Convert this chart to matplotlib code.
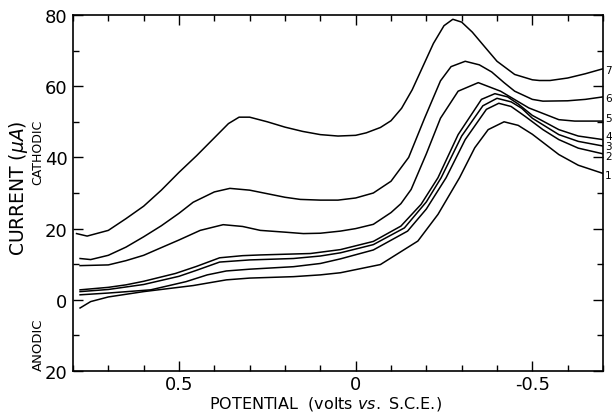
import matplotlib
matplotlib.use("Agg")
import matplotlib.pyplot as plt
from matplotlib.ticker import MultipleLocator, FixedLocator

# ---- data (potential in V vs SCE, current in uA; anodic negative) ----
c7_x = [0.79, 0.76, 0.70, 0.65, 0.60, 0.55, 0.50, 0.45, 0.40, 0.36, 0.33, 0.30, 0.25, 0.20, 0.15, 0.10,
        0.05, 0.00, -0.03, -0.07, -0.10, -0.13, -0.16, -0.19, -0.22, -0.25, -0.275, -0.30, -0.33,
        -0.37, -0.40, -0.45, -0.50, -0.52, -0.55, -0.60, -0.65, -0.70]
c7_y = [18.6, 17.9, 19.5, 22.8, 26.3, 30.8, 35.8, 40.5, 45.5, 49.5, 51.3, 51.3, 50.0, 48.5, 47.3, 46.4,
        46.0, 46.2, 46.9, 48.4, 50.3, 53.8, 59.0, 65.5, 72.0, 77.0, 78.8, 78.0, 75.2,
        70.5, 67.0, 63.3, 61.8, 61.6, 61.6, 62.3, 63.5, 64.9]

c6_x = [0.78, 0.75, 0.70, 0.65, 0.60, 0.55, 0.50, 0.46, 0.40, 0.356, 0.30, 0.25, 0.20, 0.157, 0.10,
        0.05, 0.00, -0.05, -0.10, -0.15, -0.195, -0.24, -0.27, -0.31, -0.35, -0.385, -0.42, -0.45,
        -0.50, -0.53, -0.60, -0.65, -0.70]
c6_y = [11.6, 11.3, 12.5, 14.8, 17.7, 20.8, 24.3, 27.4, 30.3, 31.3, 30.8, 29.8, 28.8, 28.2, 28.0,
        28.0, 28.6, 30.0, 33.3, 40.0, 51.0, 61.5, 65.5, 67.0, 66.0, 64.0, 61.0, 58.6,
        56.3, 55.8, 55.9, 56.3, 57.0]

c5_x = [0.78, 0.70, 0.65, 0.60, 0.556, 0.50, 0.44, 0.375, 0.32, 0.27, 0.20, 0.148, 0.10, 0.043, 0.00,
        -0.05, -0.10, -0.128, -0.157, -0.20, -0.24, -0.29, -0.347, -0.41, -0.49, -0.575, -0.62, -0.70]
c5_y = [9.6, 9.8, 11.0, 12.5, 14.4, 16.8, 19.5, 21.1, 20.6, 19.5, 19.0, 18.6, 18.7, 19.3, 20.0,
        21.2, 24.5, 27.0, 31.0, 41.0, 51.0, 58.6, 61.0, 58.6, 53.9, 50.6, 50.2, 50.2]

c4_x = [0.78, 0.70, 0.65, 0.60, 0.51, 0.45, 0.385, 0.32, 0.27, 0.20, 0.128, 0.043, -0.05, -0.128,
        -0.185, -0.233, -0.29, -0.356, -0.394, -0.43, -0.46, -0.50, -0.575, -0.63, -0.70]
c4_y = [2.8, 3.5, 4.2, 5.2, 7.4, 9.4, 11.8, 12.4, 12.6, 12.8, 13.0, 14.1, 16.4, 20.7,
        26.8, 34.3, 46.4, 56.3, 57.9, 57.0, 55.0, 51.8, 47.8, 46.0, 45.0]

c3_x = [0.78, 0.70, 0.60, 0.50, 0.45, 0.385, 0.30, 0.176, 0.10, 0.043, -0.05, -0.138, -0.20, -0.242,
        -0.30, -0.36, -0.40, -0.44, -0.47, -0.50, -0.575, -0.63, -0.70]
c3_y = [2.3, 2.9, 4.3, 6.6, 8.3, 10.6, 11.2, 11.6, 12.3, 13.2, 15.5, 20.2, 27.5, 34.3,
        46.0, 54.5, 56.6, 55.6, 53.8, 51.0, 46.4, 44.5, 43.2]

c2_x = [0.78, 0.70, 0.58, 0.48, 0.42, 0.366, 0.30, 0.176, 0.10, 0.043, -0.05, -0.147, -0.20, -0.256,
        -0.31, -0.37, -0.405, -0.44, -0.48, -0.53, -0.575, -0.63, -0.70]
c2_y = [1.4, 1.9, 2.8, 5.1, 7.0, 8.1, 8.6, 9.3, 10.2, 11.5, 14.0, 19.3, 25.5, 34.3,
        45.0, 53.5, 55.2, 54.3, 51.5, 47.8, 45.0, 42.6, 41.0]

c1_x = [0.78, 0.75, 0.70, 0.60, 0.46, 0.366, 0.30, 0.176, 0.10, 0.043, -0.07, -0.176, -0.233, -0.294,
        -0.337, -0.375, -0.42, -0.46, -0.50, -0.575, -0.63, -0.70]
c1_y = [-2.3, -0.5, 0.8, 2.3, 4.0, 5.6, 6.1, 6.5, 7.0, 7.6, 9.9, 16.5, 24.0, 34.3,
        42.7, 47.8, 50.0, 49.0, 46.5, 40.8, 37.8, 35.5]

curve_labels = ["1", "2", "3", "4", "5", "6", "7"]
label_y = [35.0, 40.3, 43.2, 46.1, 51.0, 56.8, 64.6]

y_ticks = [80, 60, 40, 20, 0, -20]
y_ticklabels = ["80", "60", "40", "20", "0", "20"]
x_ticks = [0.5, 0.0, -0.5]
x_ticklabels = ["0.5", "0", "-0.5"]

# ---- figure ----
fig = plt.figure(figsize=(6.12, 4.14), dpi=100)
ax = fig.add_axes([73 / 612, 1 - 372 / 414, (603 - 73) / 612, (372 - 16) / 414])

xs = [c1_x, c2_x, c3_x, c4_x, c5_x, c6_x, c7_x]
ys = [c1_y, c2_y, c3_y, c4_y, c5_y, c6_y, c7_y]
for x, y in zip(xs, ys):
    ax.plot(x, y, color="black", lw=1.1, solid_joinstyle="round")

ax.set_xlim(0.8, -0.7)
ax.set_ylim(-20, 80)

ax.xaxis.set_major_locator(FixedLocator(x_ticks))
ax.set_xticklabels(x_ticklabels)
ax.xaxis.set_minor_locator(MultipleLocator(0.1))
ax.yaxis.set_major_locator(FixedLocator(y_ticks))
ax.set_yticklabels(y_ticklabels)
ax.yaxis.set_minor_locator(MultipleLocator(10))

ax.tick_params(which="both", direction="in", top=True, right=True, width=1.0, labelsize=13,
               colors="black")
ax.tick_params(which="major", length=7)
ax.tick_params(which="minor", length=4)
ax.tick_params(axis="x", which="major", pad=3)
ax.tick_params(axis="y", which="major", pad=4)
for s in ax.spines.values():
    s.set_linewidth(1.2)

for lab, yy in zip(curve_labels, label_y):
    ax.text(1.004, yy, lab, transform=ax.get_yaxis_transform(), fontsize=7.5,
            ha="left", va="center", clip_on=False)

fig.text(19 / 612, 1 - 188 / 414, "CURRENT ($\\mu A$)", rotation=90, fontsize=13.5,
         ha="center", va="center")
fig.text(38 / 612, 1 - 152 / 414, "CATHODIC", rotation=90, fontsize=9, ha="center", va="center")
fig.text(38 / 612, 1 - 345 / 414, "ANODIC", rotation=90, fontsize=9.5, ha="center", va="center")

fig.text(325 / 612, 1 - 409 / 414, "POTENTIAL  (volts $\\it{vs.}$ S.C.E.)", fontsize=11.5,
         ha="center", va="baseline")

fig.savefig("out.png", dpi=100)
